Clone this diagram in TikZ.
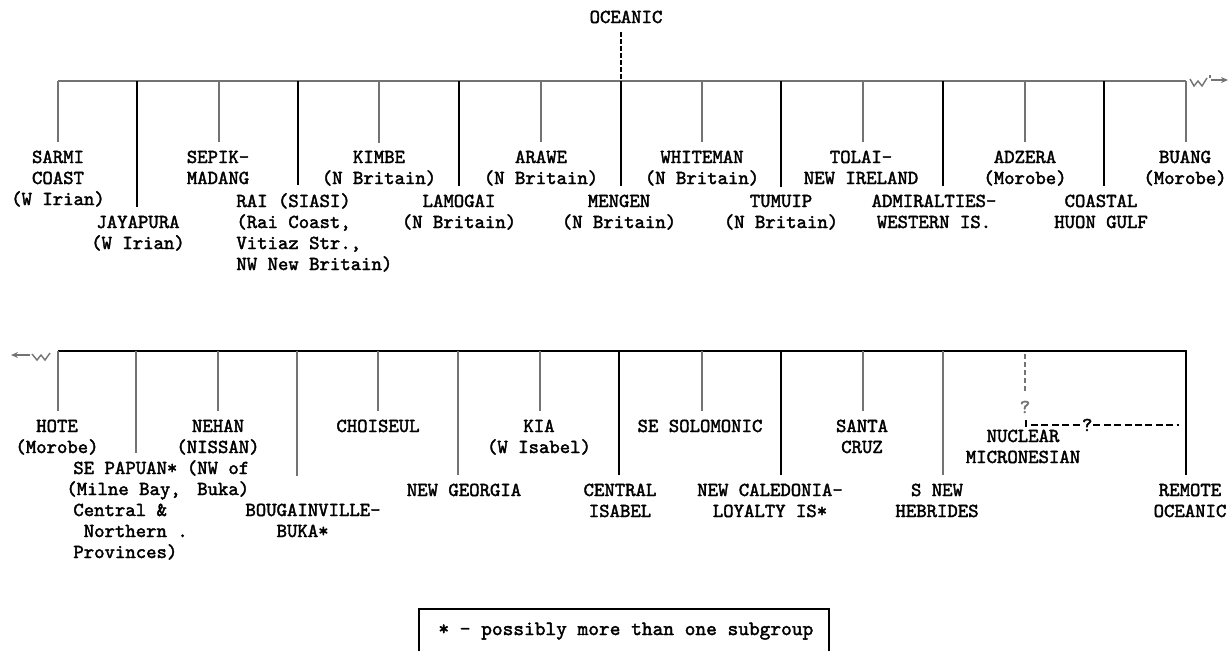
\documentclass[tikz,border=0pt]{standalone}
\usepackage{fontspec}
\newfontfamily\typew[FakeBold=2]{lmmono10-regular.otf}
\usetikzlibrary{arrows.meta}
\definecolor{grayline}{RGB}{115,115,115}
\begin{document}
\begin{tikzpicture}[x=0.5pt,y=-0.5pt,
  % a multi-line label is placed by the baseline of its last line
  lbl/.style={font=\typew\fontsize{9.9}{10.5}\selectfont,
    align=center, anchor=base, inner xsep=0pt, inner ysep=4pt},
  lblw/.style={lbl, align=left, anchor=base west},
  bargray/.style={draw=grayline, line width=0.8pt},
  barblack/.style={draw=black, line width=1pt},
  twiggray/.style={draw=grayline, line width=0.55pt},
  twigblack/.style={draw=black, line width=0.75pt},
  qdash/.style={line width=0.7pt, dash pattern=on 3.5pt off 1.7pt},
  qmark/.style={font=\typew\fontsize{9.9}{10.5}\selectfont, inner sep=0.5pt, fill=white}]
\useasboundingbox (0,0) rectangle (1229,650);

% ---------- root ----------
\node[lbl] (oceanic) at (626,23) {OCEANIC};

% ---------- upper rake ----------
\coordinate (tl) at (58,81);
\coordinate (tr) at (1186,81);
\draw[bargray] (tl) -- (tr);
\coordinate (oc) at (621,80);
\draw[line width=0.9pt, dash pattern=on 2.5pt off 1pt] (oceanic.south -| oc) -- (oc);

\node[lbl] (sarmi) at (58,205) {SARMI\\COAST\\(W Irian)};
\node[lbl] (jayapura) at (138,249) {JAYAPURA\\(W Irian)};
\node[lbl] (sepik) at (218,184) {SEPIK-\\MADANG};
\node[lblw] (rai) at (236,270) {RAI (SIASI)\\(Rai Coast,\\Vitiaz Str.,\\NW New Britain)};
\node[lbl] (kimbe) at (379,184) {KIMBE\\(N Britain)};
\node[lbl] (lamogai) at (459,228) {LAMOGAI\\(N Britain)};
\node[lbl] (arawe) at (541,184) {ARAWE\\(N Britain)};
\node[lbl] (mengen) at (619,228) {MENGEN\\(N Britain)};
\node[lbl] (whiteman) at (702,184) {WHITEMAN\\(N Britain)};
\node[lbl] (tumuip) at (781,228) {TUMUIP\\(N Britain)};
\node[lbl] (tolai) at (861,184) {TOLAI-\\NEW IRELAND};
\node[lbl] (admiralties) at (934,228) {ADMIRALTIES-\\WESTERN IS.};
\node[lbl] (adzera) at (1025,184) {ADZERA\\(Morobe)};
\node[lbl] (coastal) at (1101,228) {COASTAL\\HUON GULF};
\node[lbl] (buang) at (1185,184) {BUANG\\(Morobe)};

\foreach \x/\n in {58/sarmi,219/sepik,379/kimbe,541/arawe,702/whiteman,863/tolai,1025/adzera,1186/buang}{
  \coordinate (u-\n) at (\x,81);
  \draw[twiggray] (u-\n) -- (u-\n |- \n.north);
}
\foreach \x/\n in {137/jayapura,298/rai,459/lamogai,621/mengen,781/tumuip,943/admiralties,1104/coastal}{
  \coordinate (u-\n) at (\x,81);
  \draw[twigblack] (u-\n) -- (u-\n |- \n.north);
}

% continuation mark to the right
\coordinate (wr0) at (1190,79);
\coordinate (wr1) at (1211,80);
\coordinate (wr2) at (1228,80);
\draw[grayline, line width=0.7pt] (wr0) -- ++(4,7) -- ++(4,-5) -- ++(4,5) -- ++(5,-8);
\draw[grayline, line width=0.6pt] (1210,75) -- (1210,78);
\draw[grayline, line width=0.7pt, -{Stealth[length=3.5pt,width=3pt]}] (wr1) -- (wr2);

% ---------- lower rake ----------
\coordinate (bl) at (58,351);
\coordinate (br) at (1187,351);
\draw[barblack] (bl) -- (br);

% continuation mark to the left
\coordinate (wl0) at (50,353);
\coordinate (wl1) at (30,355);
\coordinate (wl2) at (11,355);
\draw[grayline, line width=0.7pt] (wl0) -- ++(-5,7) -- ++(-4,-5) -- ++(-4,5) -- ++(-5,-6);
\draw[grayline, line width=0.7pt, -{Stealth[length=3.5pt,width=3pt]}] (wl1) -- (wl2);

\node[lbl] (hote) at (57,453) {HOTE\\(Morobe)};
\node[lblw] (sepapuan) at (73,558) {SE PAPUAN*\\\hspace*{-3.5pt}(Milne Bay,\\Central \&\\\phantom{x}Northern .\\Provinces)};
\node[lbl] (nehan) at (218,495) {NEHAN\\(NISSAN)\\(NW of\\\phantom{(}Buka)};
\node[lbl] (bougainville) at (313,537) {BOUGAINVILLE-\\BUKA*\phantom{--}};
\node[lbl] (choiseul) at (378,432) {CHOISEUL};
\node[lbl] (newgeorgia) at (464,496) {NEW GEORGIA};
\node[lbl] (kia) at (539,453) {KIA\\(W Isabel)};
\node[lbl] (central) at (620,517) {CENTRAL\\ISABEL};
\node[lbl] (sesolomonic) at (700,432) {SE SOLOMONIC};
\node[lbl] (newcal) at (770,517) {NEW CALEDONIA-\\LOYALTY IS*};
\node[lbl] (santacruz) at (862,453) {SANTA\\CRUZ};
\node[lbl] (snewheb) at (937,517) {S NEW\\HEBRIDES};
\node[lbl] (nuclear) at (1023,463) {NUCLEAR\\MICRONESIAN};
\node[lbl] (remote) at (1190,517) {REMOTE\\OCEANIC};

\foreach \x/\n in {58/hote,136/sepapuan,218/nehan,378/choiseul,458/newgeorgia,540/kia,702/sesolomonic,863/santacruz,943/snewheb}{
  \coordinate (d-\n) at (\x,351);
  \draw[twiggray] (d-\n) -- (d-\n |- \n.north);
}
\coordinate (d-bougainville) at (297,351);
\draw[twiggray, shorten >=9.5pt] (d-bougainville) -- (d-bougainville |- bougainville.north);
\foreach \x/\n in {619/central,781/newcal,1186/remote}{
  \coordinate (d-\n) at (\x,351);
  \draw[twigblack] (d-\n) -- (d-\n |- \n.north);
}

% uncertain attachment of Nuclear Micronesian
\coordinate (nm0) at (1025,354);
\coordinate (nm1) at (1025,394);
\draw[grayline, line width=0.7pt, dash pattern=on 2.5pt off 1.5pt] (nm0) -- (nm1);
\node[qmark, text=grayline] (q1) at (1025,407) {?};
\coordinate (tk0) at (1026,420);
\coordinate (tk1) at (1026,427);
\draw[line width=0.7pt] (tk0) -- (tk1);
\coordinate (hq0) at (1031,425);
\coordinate (hq1) at (1179,425);
\draw[qdash] (hq0) -- node[qmark, pos=0.38] (q2) {?} (hq1);

% ---------- legend ----------
\node[lbl, font=\typew\fontsize{10.2}{10.5}\selectfont, anchor=base west, inner sep=0pt] (legend) at (438,635) {* - possibly more than one subgroup};
\draw[line width=0.8pt] (419,652) |- (829,609) -- (829,652);
\end{tikzpicture}
\end{document}
